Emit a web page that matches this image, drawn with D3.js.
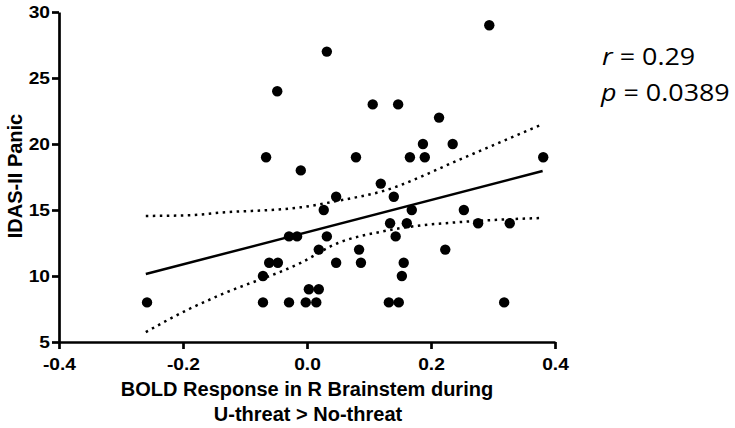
<!DOCTYPE html>
<html>
<head>
<meta charset="utf-8">
<script src="https://cdn.jsdelivr.net/npm/d3@7"></script>
<style>
  body { margin: 0; background: #fff; }
  svg { display: block; }
</style>
</head>
<body>
<svg id="chart" width="735" height="428"></svg>
<script>
// subjects: BOLD response (x) vs IDAS-II Panic score (y)
var boldX = [-0.258, -0.048, 0.032, 0.106, -0.066, 0.079, -0.010, 0.119, 0.047, 0.027,
             -0.029, -0.016, 0.032, 0.019, 0.084, -0.061, -0.047, 0.047, 0.087, -0.071,
             0.003, 0.019, -0.071, -0.029, -0.002, 0.015, 0.294, 0.147, 0.213, 0.187,
             0.235, 0.166, 0.190, 0.381, 0.140, 0.169, 0.253, 0.134, 0.161, 0.276,
             0.327, 0.143, 0.223, 0.156, 0.153, 0.132, 0.148, 0.318];
var panicY = [8, 24, 27, 23, 19, 19, 18, 17, 16, 15,
              13, 13, 13, 12, 12, 11, 11, 11, 11, 10,
              9, 9, 8, 8, 8, 8, 29, 23, 22, 20,
              20, 19, 19, 19, 16, 15, 15, 14, 14, 14,
              14, 13, 12, 11, 10, 8, 8, 8];

// fitted line and 95% band
var fitX = [-0.26, 0.38];
var fitY = [10.15, 17.95];
var bandX = [-0.26, -0.19, -0.14, -0.01, 0.05, 0.12, 0.25, 0.28, 0.38];
var bandUpper = [14.55, 14.6, 14.8, 15.2, 15.7, 16.4, 18.9, 19.5, 21.5];
var bandLower = [5.75, 7.5, 8.56, 11.0, 12.5, 13.36, 14.1, 14.19, 14.4];

var xTicks = [-0.4, -0.2, 0.0, 0.2, 0.4];
var yTicks = [5, 10, 15, 20, 25, 30];

var svg = d3.select("#chart");
var font = "'Liberation Sans', Arial, sans-serif";

var x = d3.scaleLinear().domain([-0.4, 0.4]).range([59, 555]);
var y = d3.scaleLinear().domain([5, 30]).range([342, 12]);

var line = d3.line()
  .x(function(d) { return x(d[0]); })
  .y(function(d) { return y(d[1]); });

// confidence band (dotted)
var bandLine = d3.line()
  .x(function(d) { return x(d[0]); })
  .y(function(d) { return y(d[1]); })
  .curve(d3.curveMonotoneX);

[bandUpper, bandLower].forEach(function(vals) {
  svg.append("path")
    .datum(bandX.map(function(v, i) { return [v, vals[i]]; }))
    .attr("fill", "none")
    .attr("stroke", "#000")
    .attr("stroke-width", 2.5)
    .attr("stroke-dasharray", "2.5,4.5")
    .attr("d", bandLine);
});

// regression line
svg.append("path")
  .datum(fitX.map(function(v, i) { return [v, fitY[i]]; }))
  .attr("fill", "none")
  .attr("stroke", "#000")
  .attr("stroke-width", 2.5)
  .attr("d", line);

// points
svg.selectAll("circle")
  .data(boldX.map(function(v, i) { return [v, panicY[i]]; }))
  .enter()
  .append("circle")
    .attr("cx", function(d) { return x(d[0]); })
    .attr("cy", function(d) { return y(d[1]); })
    .attr("r", 5.2)
    .attr("fill", "#000");

// axes
var gx = svg.append("g")
  .attr("transform", "translate(0,342)")
  .call(d3.axisBottom(x).tickValues(xTicks).tickSize(7).tickSizeOuter(0).tickPadding(10)
    .tickFormat(function(d) { return d.toFixed(1); }));

var gy = svg.append("g")
  .attr("transform", "translate(59,0)")
  .call(d3.axisLeft(y).tickValues(yTicks).tickSize(7).tickSizeOuter(0).tickPadding(0));

[gx, gy].forEach(function(g) {
  g.selectAll("path, line").attr("stroke", "#000").attr("stroke-width", 2.7);
  g.selectAll("text")
    .attr("fill", "#000")
    .style("font-family", font)
    .style("font-weight", "bold")
    .style("font-size", "16px");
});
// the source figure is a bit wider than tall in its lettering
gx.selectAll("text").attr("transform", "scale(1.2,1)");
gy.selectAll("text").attr("x", -9 / 1.2).attr("transform", "scale(1.2,1)");

// axis titles
svg.append("text")
  .attr("transform", "translate(22,176) rotate(-90)")
  .attr("text-anchor", "middle")
  .style("font-family", font)
  .style("font-weight", "bold")
  .style("font-size", "20px")
  .text("IDAS-II Panic");

var xt = svg.append("text")
  .attr("text-anchor", "middle")
  .style("font-family", font)
  .style("font-weight", "bold")
  .style("font-size", "20px");
xt.append("tspan").attr("x", 307).attr("y", 396).text("BOLD Response in R Brainstem during");
xt.append("tspan").attr("x", 308).attr("y", 421).text("U-threat > No-threat");

// stats
var statFont = "'Open Sans', 'Noto Sans', sans-serif";
var stats = svg.append("g").attr("transform", "translate(601,0) scale(1.12,1)");
var s1 = stats.append("text").attr("x", 1).attr("y", 65)
  .style("font-family", statFont).style("font-size", "24px");
s1.append("tspan").style("font-style", "italic").text("r");
s1.append("tspan").text(" = 0.29");
var s2 = stats.append("text").attr("x", 0).attr("y", 101)
  .style("font-family", statFont).style("font-size", "24px");
s2.append("tspan").style("font-style", "italic").text("p");
s2.append("tspan").text(" = 0.0389");
</script>
</body>
</html>
